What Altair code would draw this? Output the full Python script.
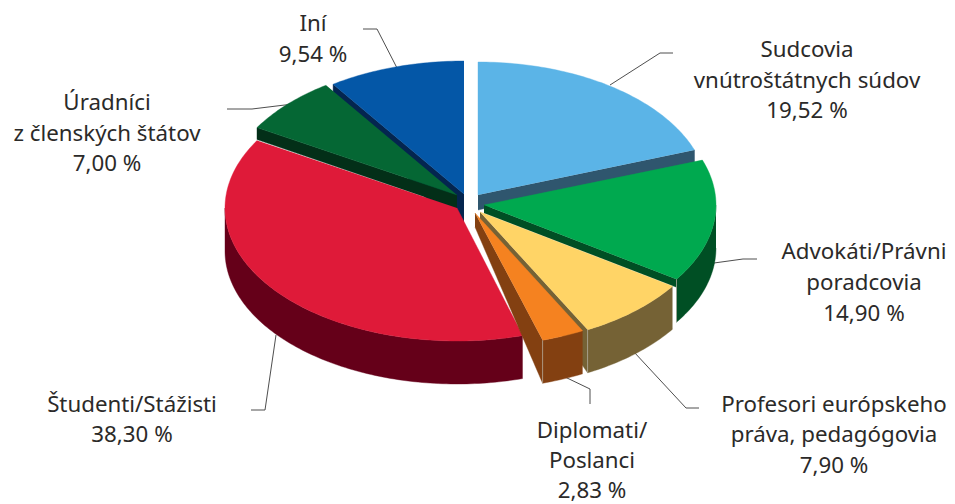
import math
import altair as alt
import pandas as pd

W, H = 939, 496
MARGIN = 8

CATEGORIES = ["Sudcovia vnútroštátnych súdov", "Advokáti/Právni poradcovia",
              "Profesori európskeho práva, pedagógovia", "Diplomati/Poslanci",
              "Študenti/Stážisti", "Úradníci z členských štátov", "Iní"]
SHARES = [19.52, 14.90, 7.90, 2.83, 38.30, 7.00, 9.54]
TOP_COLORS = ["#5BB4E7", "#00A94F", "#FFD466", "#F58220", "#DF1A39", "#056734", "#0457A7"]
WALL_COLORS = ["#2F566E", "#004F24", "#756235", "#834011", "#650019", "#032F18", "#04254F"]
APEX_X = [478, 484, 480, 475, 457, 457, 464]
APEX_Y = [195, 205, 212, 213, 208, 195, 194]
SLICE_RX = [230, 232, 232, 232, 232, 232, 232]
START_NUDGE = [0, 0, 0, 0, 1.0, 0, 0]
END_NUDGE = [0, 0, 0, 0.5, 0, 0, 0]
RY, DEPTH = 133, 43
# visible height of the radial face: (slice, edge, inner height, rim height)
RADIAL_FACES = [(6, "start", 46, 11), (5, "start", 13, 12), (0, "end", 15, 13),
                (1, "end", 8, 8), (2, "end", 8, 43), (3, "end", 14, 43)]

LABEL_TEXT = ["Iní", "9,54 %", "Sudcovia", "vnútroštátnych súdov", "19,52 %",
              "Úradníci", "z členských štátov", "7,00 %",
              "Advokáti/Právni", "poradcovia", "14,90 %",
              "Profesori európskeho", "práva, pedagógovia", "7,90 %",
              "Študenti/Stážisti", "38,30 %", "Diplomati/", "Poslanci", "2,83 %"]
LABEL_X = [313, 313, 807, 807, 807, 107, 107, 107, 864, 864, 864, 834, 834, 834, 132, 132, 592, 592, 592]
LABEL_Y = [31, 62, 57, 88, 118, 110, 141, 171, 259, 290, 321, 412, 442, 473, 412, 442, 438, 468, 498]

LEADERS = [
    [(610, 85), (660, 53), (673, 53)],
    [(714, 263), (743, 259), (757, 259)],
    [(634, 352), (686, 408), (699, 408)],
    [(565, 377), (590, 389), (590, 404)],
    [(276, 335), (265, 410), (251, 410)],
    [(227, 109), (252, 109), (293, 104)],
    [(397, 68), (377, 29), (363, 29)],
]

total = sum(SHARES)
starts, ends, acc = [], [], 0.0
for i, s in enumerate(SHARES):
    starts.append(acc / total * 360 + START_NUDGE[i])
    acc += s
    ends.append(acc / total * 360 + END_NUDGE[i])


def rim(i, deg, dy=0):
    r = math.radians(deg)
    return (APEX_X[i] + SLICE_RX[i] * math.sin(r), APEX_Y[i] - RY * math.cos(r) + dy)


def arc(i, a, b, dy=0):
    n = max(2, int(abs(b - a)) + 1)
    return [rim(i, a + (b - a) * k / (n - 1), dy) for k in range(n)]


def shape(points, color, stroke=None, width=0.4, filled=True):
    df = pd.DataFrame([{"x": p[0] - MARGIN, "y": p[1] - MARGIN, "o": k} for k, p in enumerate(points)])
    x = alt.X("x:Q", scale=alt.Scale(domain=[0, W], nice=False, zero=False), axis=None)
    y = alt.Y("y:Q", scale=alt.Scale(domain=[H, 0], nice=False, zero=False), axis=None)
    kw = dict(stroke=stroke or color, strokeWidth=width)
    if filled:
        kw.update(fill=color, filled=True)
    return alt.Chart(df).mark_line(**kw).encode(x=x, y=y, order=alt.Order("o:Q"))


def radial(i, edge, h_in, h_rim):
    d = starts[i] if edge == "start" else ends[i]
    a = (APEX_X[i], APEX_Y[i])
    b = rim(i, d)
    return shape([a, b, (b[0], b[1] + h_rim), (a[0], a[1] + h_in)], WALL_COLORS[i])


def wall(i):
    a, b = max(starts[i], 90), min(ends[i], 270)
    if a >= b:
        return []
    return [shape(arc(i, a, b) + arc(i, b, a, DEPTH), WALL_COLORS[i])]


def top(i):
    return shape([(APEX_X[i], APEX_Y[i])] + arc(i, starts[i], ends[i]), TOP_COLORS[i])


def faces(i):
    return [radial(i, e, a, c) for (j, e, a, c) in RADIAL_FACES if j == i]


def corner(i):
    b = rim(i, ends[i])
    return [shape([b, (b[0], b[1] + DEPTH)], "#B9B2A5", width=0.7, filled=False)]


layers = []
for p in LEADERS:
    layers.append(shape(p, "#3A3A3A", width=0.9, filled=False))
for i in [6, 5, 4]:
    layers += faces(i) + wall(i) + [top(i)]
for i in [0, 1, 2, 3]:
    layers += faces(i) + wall(i) + [top(i)]
    if i > 0:
        layers += corner(i)

labels = pd.DataFrame({"t": LABEL_TEXT,
                       "x": [v - MARGIN for v in LABEL_X],
                       "y": [v - MARGIN for v in LABEL_Y]})
layers.append(
    alt.Chart(labels).mark_text(font="Noto Sans", fontSize=22.3, color="#2B2A29", baseline="alphabetic", align="center")
    .encode(x=alt.X("x:Q", scale=alt.Scale(domain=[0, W], nice=False, zero=False), axis=None),
            y=alt.Y("y:Q", scale=alt.Scale(domain=[H, 0], nice=False, zero=False), axis=None),
            text="t:N")
)

chart = alt.layer(*layers).properties(
    width=W, height=H, padding=0, autosize=alt.AutoSizeParams(type="none"), background="white"
).configure_view(stroke=None)

chart.save("out.html", embed_options={"renderer": "svg", "actions": False})
